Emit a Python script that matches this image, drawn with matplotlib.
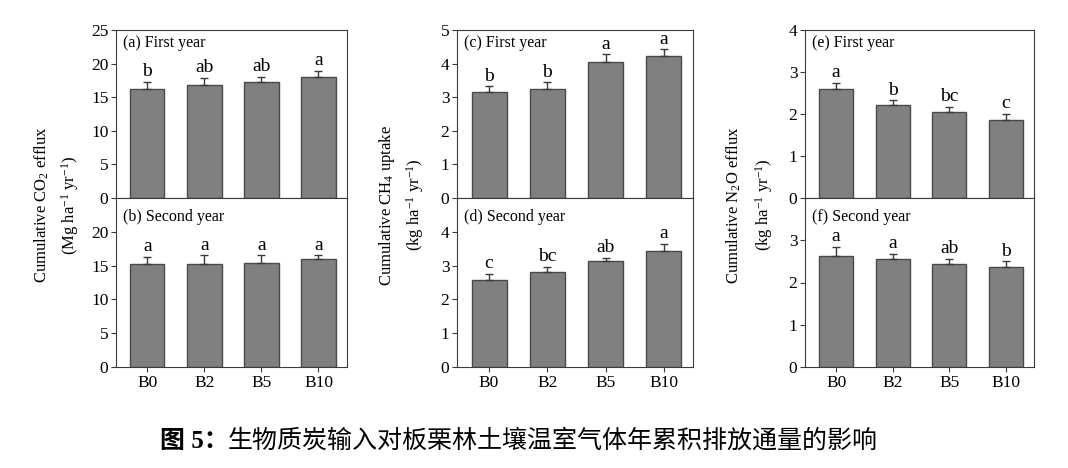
import numpy as np
import matplotlib
matplotlib.use("Agg")
import matplotlib.pyplot as plt

plt.rcParams['font.family'] = ['Liberation Serif', 'DejaVu Serif']
plt.rcParams['mathtext.fontset'] = 'custom'
plt.rcParams['mathtext.rm'] = 'Liberation Serif'
plt.rcParams['mathtext.it'] = 'Liberation Serif:italic'

treatments = ['B0', 'B2', 'B5', 'B10']

# CO2 efflux (Mg ha-1 yr-1)
co2_first = [16.2, 16.8, 17.2, 18.0]
co2_first_err = [1.1, 1.1, 0.8, 0.9]
co2_first_sig = ['b', 'ab', 'ab', 'a']
co2_second = [15.25, 15.3, 15.4, 15.95]
co2_second_err = [1.05, 1.2, 1.1, 0.55]
co2_second_sig = ['a', 'a', 'a', 'a']

# CH4 uptake (kg ha-1 yr-1)
ch4_first = [3.14, 3.23, 4.06, 4.22]
ch4_first_err = [0.18, 0.21, 0.22, 0.20]
ch4_first_sig = ['b', 'b', 'a', 'a']
ch4_second = [2.57, 2.81, 3.13, 3.44]
ch4_second_err = [0.18, 0.16, 0.10, 0.21]
ch4_second_sig = ['c', 'bc', 'ab', 'a']

# N2O efflux (kg ha-1 yr-1)
n2o_first = [2.60, 2.21, 2.05, 1.86]
n2o_first_err = [0.15, 0.12, 0.12, 0.14]
n2o_first_sig = ['a', 'b', 'bc', 'c']
n2o_second = [2.62, 2.56, 2.44, 2.37]
n2o_second_err = [0.22, 0.12, 0.12, 0.13]
n2o_second_sig = ['a', 'a', 'ab', 'b']

W, H = 1068, 468
fig = plt.figure(figsize=(W / 100, H / 100), dpi=100)

bar_color = '#808080'
edge_color = '#4a4a4a'
spine_color = '#3a3a3a'


def draw_panel(ax, vals, errs, sig, ymax, step, label, bottom):
    x = np.arange(len(treatments))
    ax.bar(x, vals, width=0.6, color=bar_color, edgecolor=edge_color,
           linewidth=1.0, zorder=2)
    ax.errorbar(x, vals, yerr=[np.zeros(len(vals)), errs], fmt='none',
                ecolor='#3a3a3a', elinewidth=1.0, capsize=3, capthick=1.0,
                zorder=3)
    for xi, v, e, s in zip(x, vals, errs, sig):
        ax.annotate(s, (xi, v + e), xytext=(0, 4), textcoords='offset points',
                    ha='center', va='baseline', fontsize=14)
    ax.set_xlim(-0.55, 3.5)
    ax.set_ylim(0, ymax)
    ticks = np.arange(0, ymax + step / 2, step)
    if bottom:
        ticks = ticks[:-1]
    ax.set_yticks(ticks)
    ax.set_yticklabels([f'{t:g}' for t in ticks], fontsize=12.5)
    ax.set_xticks(x)
    if bottom:
        ax.set_xticklabels(treatments, fontsize=12.5)
    else:
        ax.set_xticklabels([])
    ax.tick_params(direction='out', length=3.5, width=0.8, color=spine_color, pad=2)
    for sp in ax.spines.values():
        sp.set_color(spine_color)
        sp.set_linewidth(0.8)
    ytxt = 0.89 if bottom else 0.925
    ax.text(7 / (ax.get_position().width * W), ytxt, label,
            transform=ax.transAxes, ha='left', va='center', fontsize=11.5)


top_y, mid_y, bot_y = 1 - 30 / H, 1 - 198 / H, 1 - 367 / H
col_left = [116, 457, 805]
col_width = [231, 236, 229]

panels = [
    (co2_first, co2_first_err, co2_first_sig, co2_second, co2_second_err,
     co2_second_sig, 25, 5, '(a) First year', '(b) Second year'),
    (ch4_first, ch4_first_err, ch4_first_sig, ch4_second, ch4_second_err,
     ch4_second_sig, 5, 1, '(c) First year', '(d) Second year'),
    (n2o_first, n2o_first_err, n2o_first_sig, n2o_second, n2o_second_err,
     n2o_second_sig, 4, 1, '(e) First year', '(f) Second year'),
]

for i, p in enumerate(panels):
    l, w = col_left[i] / W, col_width[i] / W
    ax_top = fig.add_axes([l, mid_y, w, top_y - mid_y])
    ax_bot = fig.add_axes([l, bot_y, w, mid_y - bot_y])
    draw_panel(ax_top, p[0], p[1], p[2], p[6], p[7], p[8], False)
    draw_panel(ax_bot, p[3], p[4], p[5], p[6], p[7], p[9], True)

# y axis labels
ylabels = [
    ('Cumulative CO$_2$ efflux', '(Mg ha$^{-1}$ yr$^{-1}$)', 42, 70),
    ('Cumulative CH$_4$ uptake', '(kg ha$^{-1}$ yr$^{-1}$)', 387, 415),
    ('Cumulative N$_2$O efflux', '(kg ha$^{-1}$ yr$^{-1}$)', 734, 764),
]
for l1, l2, x1, x2 in ylabels:
    fig.text(x1 / W, 1 - 205 / H, l1, rotation=90, ha='center', va='center',
             fontsize=12)
    fig.text(x2 / W, 1 - 205 / H, l2, rotation=90, ha='center', va='center',
             fontsize=12)

# caption
fig.text(160 / W, 1 - 441 / H, '图 5：', ha='left', va='center', fontsize=18,
         fontweight='bold', family=['Liberation Serif', 'Noto Sans CJK SC'])
fig.text(228 / W, 1 - 441 / H, '生物质炭输入对板栗林土壤温室气体年累积排放通量的影响',
         ha='left', va='center', fontsize=18, family=['Noto Sans CJK SC'])

fig.savefig('out.png', dpi=100)
